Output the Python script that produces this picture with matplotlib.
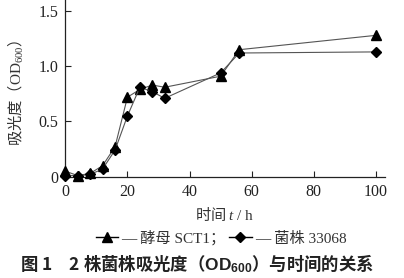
import matplotlib
matplotlib.use('Agg')
import matplotlib.pyplot as plt
from matplotlib.lines import Line2D

plt.rcParams['font.family'] = ['Liberation Serif', 'Noto Sans CJK SC']
plt.rcParams['mathtext.fontset'] = 'custom'
plt.rcParams['mathtext.rm'] = 'Liberation Serif'
plt.rcParams['mathtext.it'] = 'Liberation Serif:italic'
plt.rcParams['mathtext.sf'] = 'Liberation Sans:bold'

# time in hours, OD600 values
hours = [0, 4, 8, 12, 16, 20, 24, 28, 32, 50, 56, 100]
od_sct1 = [0.05, 0.01, 0.03, 0.10, 0.27, 0.72, 0.79, 0.83, 0.81, 0.91, 1.15, 1.28]
od_33068 = [0.01, 0.01, 0.02, 0.07, 0.24, 0.55, 0.81, 0.77, 0.71, 0.94, 1.12, 1.13]
x_ticks = [0, 20, 40, 60, 80, 100]
y_ticks = [0, 0.5, 1.0, 1.5]
y_tick_labels = ['0', '0.5', '1.0', '1.5']
label_sct1 = '— 酵母 SCT1；'
label_33068 = '— 菌株 33068'

W, H = 404, 278
fig = plt.figure(figsize=(W / 100, H / 100), dpi=100)
ax = fig.add_axes([65.3 / W, 1 - 176.7 / H, 320 / W, 176.7 / H])

ax.plot(hours, od_sct1, color='#555555', lw=0.8, marker='^', ms=7.5,
        mfc='black', mec='black', clip_on=False, zorder=3)
ax.plot(hours, od_33068, color='#555555', lw=0.8, marker='D', ms=5.5,
        mfc='black', mec='black', clip_on=False, zorder=3)

ax.set_xlim(0, 103)
ax.set_ylim(0, 1.6)
ax.set_xticks(x_ticks)
ax.set_yticks(y_ticks)
ax.set_yticklabels(y_tick_labels)
ax.tick_params(direction='in', length=4, width=0.8, labelsize=11.5, colors='#222222', pad=5)
ax.spines['top'].set_visible(False)
ax.spines['right'].set_visible(False)
for s in ('left', 'bottom'):
    ax.spines[s].set_linewidth(0.9)
    ax.spines[s].set_color('#222222')

# CJK text outside the math part uses the text's own font
fig.text(16 / W, 1 - 93 / H, r'吸光度（$\mathrm{OD}_{\mathrm{600}}$）', rotation=90,
         ha='center', va='center', fontsize=11, color='#333333',
         family='Noto Sans CJK SC')
fig.text(225 / W, 1 - 215 / H, r'时间 $t\ /\ \mathrm{h}$', ha='center', va='center',
         fontsize=11, color='#333333', family='Noto Sans CJK SC')

handles = [Line2D([], [], color='black', lw=1, marker='^', ms=7.5),
           Line2D([], [], color='black', lw=1, marker='D', ms=5.5)]
fig.legend(handles, [label_sct1, label_33068], loc='center', ncol=2,
           bbox_to_anchor=(221 / W, 1 - 238 / H), frameon=False,
           fontsize=11, handlelength=1.5, handletextpad=0.2, columnspacing=0.2,
           labelcolor='#333333')

fig.text(197 / W, 1 - 263 / H, r'图 1　2 株菌株吸光度（$\mathsf{OD}_{\mathsf{600}}$）与时间的关系',
         ha='center', va='center', fontsize=12.5, fontweight='bold',
         family='Noto Sans CJK SC', color='#222222')

fig.savefig('out.png', dpi=100)
